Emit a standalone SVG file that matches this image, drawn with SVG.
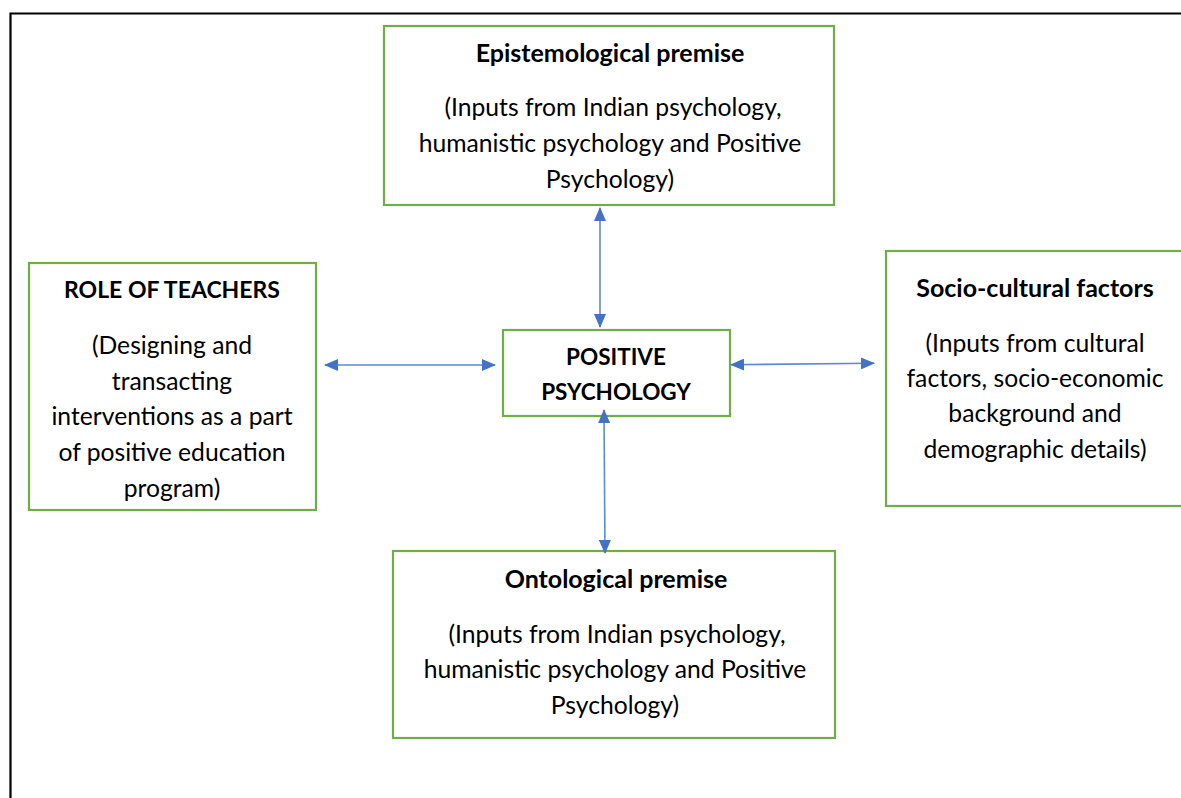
<svg xmlns="http://www.w3.org/2000/svg" width="1181" height="798" viewBox="0 0 1181 798">
<style>
.box{fill:#fff;stroke:#70AD47;stroke-width:2.2}
.t{font-family:Lato,"Open Sans",sans-serif;font-size:24.7px;fill:#000;text-anchor:middle}
.b{font-weight:bold;font-size:25px}
.caps{font-size:23px}
.c{stroke:#5B8BD0;stroke-width:1.6;fill:none;marker-start:url(#ah);marker-end:url(#ah)}
</style>
<defs>
<marker id="ah" viewBox="0 0 14 12" refX="13" refY="6" markerWidth="14" markerHeight="12" markerUnits="userSpaceOnUse" orient="auto-start-reverse">
<path d="M0,0 L14,6 L0,12 Z" fill="#4472C4"/>
</marker>
</defs>
<rect x="0" y="0" width="1181" height="798" fill="#fff"/>
<path d="M10.5,798 V13.5 H1181" fill="none" stroke="#000" stroke-width="2.2"/>
<g id="epistemological">
<rect class="box" x="384" y="26" width="450" height="179"/>
<text class="t b" x="610" y="62">Epistemological premise</text>
<text class="t" x="613" y="116">(Inputs from Indian psychology,</text>
<text class="t" x="610" y="152">humanistic psychology and Positive</text>
<text class="t" x="610" y="188">Psychology)</text>
</g>
<g id="role">
<rect class="box" x="29" y="263" width="287" height="247"/>
<text class="t b caps" x="172" y="298">ROLE OF TEACHERS</text>
<text class="t" x="172" y="354">(Designing and</text>
<text class="t" x="172" y="390">transacting</text>
<text class="t" x="172" y="425">interventions as a part</text>
<text class="t" x="172" y="461">of positive education</text>
<text class="t" x="172" y="497">program)</text>
</g>
<g id="positive">
<rect class="box" x="503" y="330" width="227" height="86"/>
<text class="t b" x="616" y="365" style="font-size:22.5px">POSITIVE</text>
<text class="t b" x="616" y="400" style="font-size:22.5px">PSYCHOLOGY</text>
</g>
<g id="socio">
<rect class="box" x="886" y="251" width="300" height="255"/>
<text class="t b" x="1035" y="297">Socio-cultural factors</text>
<text class="t" x="1035" y="352">(Inputs from cultural</text>
<text class="t" x="1035" y="387">factors, socio-economic</text>
<text class="t" x="1035" y="422">background and</text>
<text class="t" x="1035" y="458">demographic details)</text>
</g>
<g id="ontological">
<rect class="box" x="393" y="551" width="442" height="187"/>
<text class="t b" x="616" y="588">Ontological premise</text>
<text class="t" x="617" y="643">(Inputs from Indian psychology,</text>
<text class="t" x="615" y="678">humanistic psychology and Positive</text>
<text class="t" x="615" y="714">Psychology)</text>
</g>
<g id="connectors">
<line class="c" x1="325" y1="365" x2="495" y2="365"/>
<line class="c" x1="731" y1="364.7" x2="874" y2="363.3"/>
<line class="c" x1="600" y1="208" x2="600" y2="327"/>
<line class="c" x1="604" y1="410" x2="605" y2="553"/>
</g>
</svg>
